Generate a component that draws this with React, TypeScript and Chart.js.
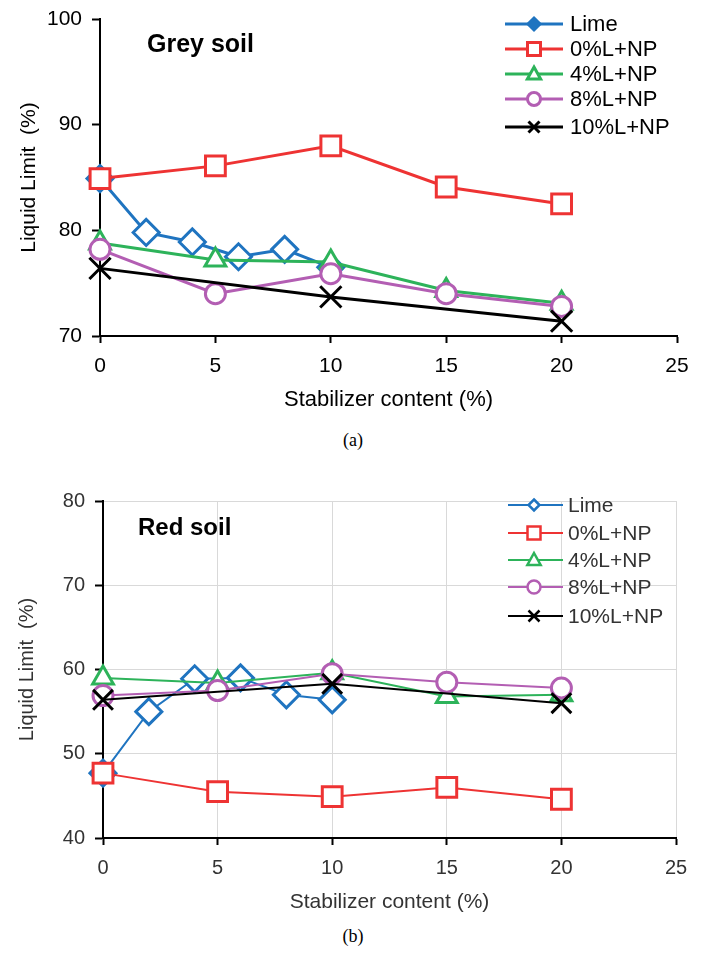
import React, { useEffect, useRef } from 'react';
import { Chart, registerables } from 'chart.js';
Chart.register(...registerables);

// ---------- data ----------
const seriesNames = ['Lime', '0%L+NP', '4%L+NP', '8%L+NP', '10%L+NP'];
const xLime = [0, 2, 4, 6, 8, 10];
const xMix = [0, 5, 10, 15, 20];
const x10 = [0, 10, 20];

const greyLime = [84.9, 79.8, 78.9, 77.5, 78.2, 76.5];
const greyNP0 = [84.9, 86.1, 88.0, 84.1, 82.5];
const greyNP4 = [78.8, 77.2, 77.0, 74.3, 73.1];
const greyNP8 = [78.2, 74.0, 75.9, 74.0, 72.8];
const greyNP10 = [76.4, 73.7, 71.4];

const redLime = [47.7, 55.0, 58.9, 59.0, 57.0, 56.4];
const redNP0 = [47.7, 45.5, 44.9, 46.0, 44.6];
const redNP4 = [59.0, 58.4, 59.6, 56.8, 57.0];
const redNP8 = [56.9, 57.5, 59.5, 58.5, 57.8];
const redNP10 = [56.4, 58.3, 56.0];

const xTicks = [0, 5, 10, 15, 20, 25];
const greyYTicks = [70, 80, 90, 100];
const redYTicks = [40, 50, 60, 70, 80];

const xTitle = 'Stabilizer content (%)';
const yTitle = 'Liquid Limit  (%)';

// ---------- styles ----------
const COLORS = ['#1F74C0', '#EE3333', '#2DB35A', '#B35EB3', '#000000'];
const STYLES = ['rectRot', 'rect', 'triangle', 'circle', 'crossRot'];
const LEG_STYLES = ['diamond', 'square', 'triangle', 'circle', 'x'];
const SANS = "'Liberation Sans', Arial, Helvetica, sans-serif";

function pts(xs: number[], ys: number[]) {
  return xs.map((x, i) => ({ x, y: ys[i] }));
}

function drawMark(ctx: CanvasRenderingContext2D, style: string, x: number, y: number, r: number, color: string, lw: number, filled: boolean) {
  ctx.save();
  ctx.strokeStyle = color;
  ctx.fillStyle = filled ? color : '#ffffff';
  ctx.lineWidth = lw;
  ctx.beginPath();
  if (style === 'diamond') {
    ctx.moveTo(x, y - r); ctx.lineTo(x + r, y); ctx.lineTo(x, y + r); ctx.lineTo(x - r, y); ctx.closePath();
    ctx.fill(); ctx.stroke();
  } else if (style === 'square') {
    ctx.rect(x - r, y - r, 2 * r, 2 * r); ctx.fill(); ctx.stroke();
  } else if (style === 'triangle') {
    ctx.moveTo(x, y - r); ctx.lineTo(x + r * 0.95, y + r * 0.7); ctx.lineTo(x - r * 0.95, y + r * 0.7); ctx.closePath();
    ctx.fill(); ctx.stroke();
  } else if (style === 'circle') {
    ctx.arc(x, y, r, 0, Math.PI * 2); ctx.fill(); ctx.stroke();
  } else {
    ctx.moveTo(x - r, y - r); ctx.lineTo(x + r, y + r); ctx.moveTo(x + r, y - r); ctx.lineTo(x - r, y + r); ctx.stroke();
  }
  ctx.restore();
}

type Cfg = {
  W: number; H: number;
  left: number; right: number; top: number; bottom: number;
  yMin: number; yMax: number; yTicks: number[];
  series: { xs: number[]; ys: number[] }[];
  lineW: number; markW: number; radii: number[];
  grid: boolean;
  tickFont: number; textColor: string;
  xLabelPad: number; yLabelPad: number;
  soil: string; soilX: number; soilY: number; soilFont: number;
  xTitleY: number; xTitleFont: number; yTitleX: number; yTitleFont: number;
  legX0: number; legX1: number; legXM: number; legXT: number; legYs: number[]; legFont: number;
  legR: number[]; legLW: number; legLineW: number; legFilledLime: boolean;
};

function makeChart(canvas: HTMLCanvasElement, c: Cfg) {
  const datasets = c.series.map((s, i) => ({
    label: seriesNames[i],
    data: pts(s.xs, s.ys),
    borderColor: COLORS[i],
    backgroundColor: '#ffffff',
    pointBackgroundColor: '#ffffff',
    pointBorderColor: COLORS[i],
    pointStyle: STYLES[i] as any,
    pointRadius: c.radii[i],
    pointBorderWidth: c.markW,
    borderWidth: c.lineW,
    tension: 0,
    clip: false as any,
    order: 5 - i,
  }));

  const overlay = {
    id: 'overlay',
    afterDraw(chart: any) {
      const ctx: CanvasRenderingContext2D = chart.ctx;
      const area = chart.chartArea;
      ctx.save();
      // soil label
      ctx.font = `bold ${c.soilFont}px ${SANS}`;
      ctx.fillStyle = '#000';
      ctx.textAlign = 'left';
      ctx.textBaseline = 'middle';
      ctx.fillText(c.soil, c.soilX, c.soilY);
      // axis titles
      ctx.fillStyle = c.textColor;
      ctx.font = `${c.xTitleFont}px ${SANS}`;
      ctx.textAlign = 'center';
      ctx.fillText(xTitle, (area.left + area.right) / 2, c.xTitleY);
      ctx.save();
      ctx.translate(c.yTitleX, (area.top + area.bottom) / 2);
      ctx.rotate(-Math.PI / 2);
      ctx.font = `${c.yTitleFont}px ${SANS}`;
      ctx.fillText(yTitle, 0, 0);
      ctx.restore();
      // legend
      ctx.font = `${c.legFont}px ${SANS}`;
      ctx.textAlign = 'left';
      seriesNames.forEach((name, i) => {
        const y = c.legYs[i];
        ctx.strokeStyle = COLORS[i];
        ctx.lineWidth = c.legLineW;
        ctx.beginPath();
        ctx.moveTo(c.legX0, y);
        ctx.lineTo(c.legX1, y);
        ctx.stroke();
        drawMark(ctx, LEG_STYLES[i], c.legXM, y, c.legR[i], COLORS[i], c.legLW, i === 0 && c.legFilledLime);
        ctx.fillStyle = c.textColor;
        ctx.fillText(name, c.legXT, y + 1);
      });
      ctx.restore();
    },
  };

  return new Chart(canvas, {
    type: 'line',
    data: { datasets },
    plugins: [overlay],
    options: {
      responsive: false,
      maintainAspectRatio: false,
      animation: false,
      layout: { padding: { left: 0, right: c.W - c.right, top: c.top, bottom: 0 } },
      plugins: { legend: { display: false }, tooltip: { enabled: false }, title: { display: false } },
      scales: {
        x: {
          type: 'linear',
          min: 0,
          max: 25,
          afterBuildTicks: (s: any) => { s.ticks = xTicks.map((v) => ({ value: v })); },
          afterFit: (s: any) => { s.height = c.H - c.bottom; s.paddingLeft = 0; s.paddingRight = 0; },
          grid: {
            display: true,
            drawOnChartArea: c.grid,
            color: '#D9D9D9',
            lineWidth: 1,
            drawTicks: true,
            tickLength: 7,
            tickWidth: 2,
            tickColor: '#000',
          },
          border: { display: true, color: '#000', width: 2 },
          ticks: {
            font: { family: SANS, size: c.tickFont },
            color: c.textColor,
            padding: c.xLabelPad,
            maxRotation: 0,
            autoSkip: false,
          },
        },
        y: {
          type: 'linear',
          min: c.yMin,
          max: c.yMax,
          afterBuildTicks: (s: any) => { s.ticks = c.yTicks.map((v) => ({ value: v })); },
          afterFit: (s: any) => { s.width = c.left; s.paddingTop = 0; s.paddingBottom = 0; },
          grid: {
            display: true,
            drawOnChartArea: c.grid,
            color: '#D9D9D9',
            lineWidth: 1,
            drawTicks: true,
            tickLength: 8,
            tickWidth: 2,
            tickColor: '#000',
          },
          border: { display: true, color: '#000', width: 2 },
          ticks: {
            font: { family: SANS, size: c.tickFont },
            color: c.textColor,
            padding: c.yLabelPad,
            autoSkip: false,
          },
        },
      },
    } as any,
  });
}

const topCfg: Cfg = {
  W: 706, H: 420,
  left: 100, right: 677, top: 19, bottom: 336,
  yMin: 70, yMax: 100, yTicks: greyYTicks,
  series: [
    { xs: xLime, ys: greyLime },
    { xs: xMix, ys: greyNP0 },
    { xs: xMix, ys: greyNP4 },
    { xs: xMix, ys: greyNP8 },
    { xs: x10, ys: greyNP10 },
  ],
  lineW: 3, markW: 3, radii: [13, 14, 12, 10, 15],
  grid: false,
  tickFont: 21, textColor: '#000',
  xLabelPad: 11, yLabelPad: 10,
  soil: 'Grey soil', soilX: 147, soilY: 45, soilFont: 25,
  xTitleY: 400, xTitleFont: 22, yTitleX: 29, yTitleFont: 21,
  legX0: 505, legX1: 563, legXM: 534, legXT: 570, legYs: [24, 49, 74, 99, 127], legFont: 22,
  legR: [6, 6.5, 7, 6.5, 5.5], legLW: 3, legLineW: 3, legFilledLime: true,
};

const botCfg: Cfg = {
  W: 706, H: 450,
  left: 103, right: 676, top: 31, bottom: 368,
  yMin: 40, yMax: 80, yTicks: redYTicks,
  series: [
    { xs: xLime, ys: redLime },
    { xs: xMix, ys: redNP0 },
    { xs: xMix, ys: redNP4 },
    { xs: xMix, ys: redNP8 },
    { xs: x10, ys: redNP10 },
  ],
  lineW: 2, markW: 3, radii: [13, 14, 12, 10, 14],
  grid: true,
  tickFont: 20, textColor: '#333333',
  xLabelPad: 11, yLabelPad: 10,
  soil: 'Red soil', soilX: 138, soilY: 58, soilFont: 24,
  xTitleY: 432, xTitleFont: 21, yTitleX: 27, yTitleFont: 20,
  legX0: 508, legX1: 563, legXM: 534, legXT: 568, legYs: [35, 63, 90, 117, 146], legFont: 21,
  legR: [5.5, 6.5, 7, 6.5, 5.5], legLW: 2.5, legLineW: 2, legFilledLime: false,
};

function ChartCanvas({ cfg, top }: { cfg: Cfg; top: number }) {
  const ref = useRef<HTMLCanvasElement | null>(null);
  useEffect(() => {
    if (!ref.current) return;
    const ch = makeChart(ref.current, cfg);
    return () => ch.destroy();
  }, [cfg]);
  return (
    <canvas
      ref={ref}
      width={cfg.W}
      height={cfg.H}
      style={{ position: 'absolute', left: 0, top, width: cfg.W, height: cfg.H }}
    />
  );
}

export default function App() {
  const cap: React.CSSProperties = {
    position: 'absolute',
    left: 0,
    width: 706,
    textAlign: 'center',
    fontFamily: "'Liberation Serif', 'Times New Roman', serif",
    fontSize: 18,
    lineHeight: '20px',
    color: '#000',
  };
  return (
    <div style={{ position: 'absolute', left: 0, top: 0, width: 706, height: 965, background: '#fff' }}>
      <ChartCanvas cfg={topCfg} top={0} />
      <div style={{ ...cap, top: 430 }}>(a)</div>
      <ChartCanvas cfg={botCfg} top={470} />
      <div style={{ ...cap, top: 926 }}>(b)</div>
    </div>
  );
}
